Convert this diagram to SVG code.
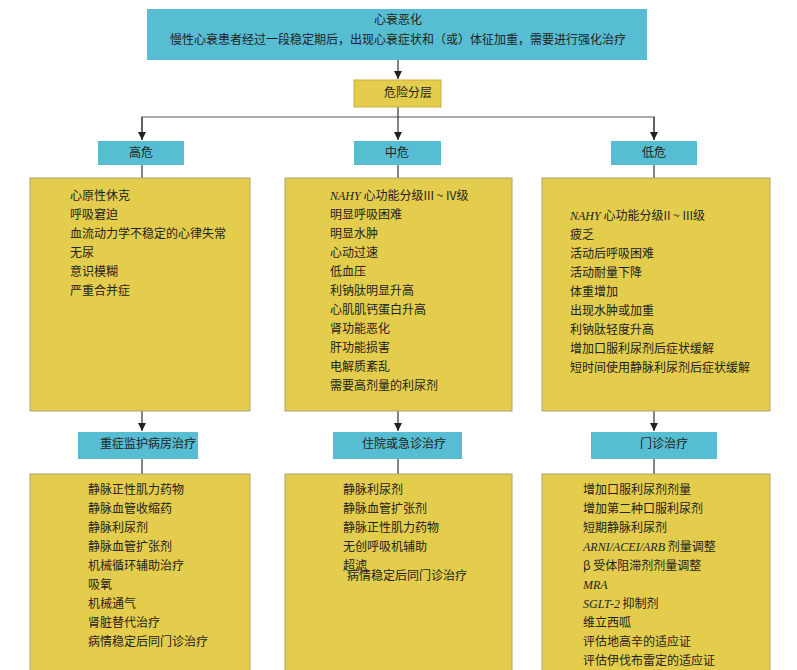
<svg xmlns="http://www.w3.org/2000/svg" width="797" height="670" viewBox="0 0 797 670">
<defs>
<style>
text{font-family:"Noto Sans CJK SC","Liberation Sans",sans-serif;font-size:12px;fill:#222}
.b{fill:#56bdd3}
.y{fill:#e4cd4c;stroke:#b0a070;stroke-width:1}
.l{stroke:#333;stroke-width:1.2;fill:none}
.g{stroke:#aaa;stroke-width:2;fill:none}
.i{font-family:"Liberation Serif",serif;font-style:italic}
</style>
<marker id="a" viewBox="0 0 10 10" refX="10" refY="5" markerWidth="7" markerHeight="7" orient="auto"><path d="M0,0L10,5L0,10z" fill="#222"/></marker>
</defs>
<rect width="797" height="670" fill="#fff"/>
<g id="connectors">
<path class="l" d="M398,60V79" marker-end="url(#a)"/>
<path class="g" d="M142,140V117H654V140"/>
<path class="l" d="M398,107V140" marker-end="url(#a)"/>
<path class="l" d="M142,117V140" marker-end="url(#a)"/>
<path class="l" d="M654,117V140" marker-end="url(#a)"/>
<path class="l" d="M142,165V178M398,165V178M654,165V178"/>
<path class="l" d="M142,411V431" marker-end="url(#a)"/>
<path class="l" d="M398,411V431" marker-end="url(#a)"/>
<path class="l" d="M654,411V431" marker-end="url(#a)"/>
<path class="l" d="M142,459V474M398,459V474M654,459V474"/>
</g>
<g id="top"><rect class="b" x="147" y="9" width="500" height="51"/>
<text x="398" y="24" text-anchor="middle">心衰恶化</text>
<text x="398" y="44" text-anchor="middle">慢性心衰患者经过一段稳定期后，出现心衰症状和（或）体征加重，需要进行强化治疗</text></g>
<g id="risk"><rect x="354" y="80" width="87" height="27" fill="#e4cd4c" stroke="#c8b040"/><text x="384" y="97">危险分层</text></g>
<g id="high"><rect class="b" x="98" y="141" width="86" height="24"/><text x="141" y="157" text-anchor="middle">高危</text></g>
<g id="mid"><rect class="b" x="354" y="141" width="87" height="24"/><text x="397" y="157" text-anchor="middle">中危</text></g>
<g id="low"><rect class="b" x="611" y="141" width="86" height="24"/><text x="654" y="157" text-anchor="middle">低危</text></g>
<g id="high-list"><rect class="y" x="30" y="178" width="220" height="233"/>
<text x="70" y="200">心原性休克</text><text x="70" y="219">呼吸窘迫</text><text x="70" y="238">血流动力学不稳定的心律失常</text><text x="70" y="257">无尿</text><text x="70" y="276">意识模糊</text><text x="70" y="295">严重合并症</text></g>
<g id="mid-list"><rect class="y" x="285" y="178" width="227" height="233"/>
<text x="330" y="200"><tspan class="i">NAHY</tspan> 心功能分级III ~ IV级</text><text x="330" y="219">明显呼吸困难</text><text x="330" y="238">明显水肿</text><text x="330" y="257">心动过速</text><text x="330" y="276">低血压</text><text x="330" y="295">利钠肽明显升高</text><text x="330" y="314">心肌肌钙蛋白升高</text><text x="330" y="333">肾功能恶化</text><text x="330" y="352">肝功能损害</text><text x="330" y="371">电解质紊乱</text><text x="330" y="390">需要高剂量的利尿剂</text></g>
<g id="low-list"><rect class="y" x="542" y="178" width="228" height="233"/>
<text x="570" y="220"><tspan class="i">NAHY</tspan> 心功能分级II ~ III级</text><text x="570" y="239">疲乏</text><text x="570" y="258">活动后呼吸困难</text><text x="570" y="277">活动耐量下降</text><text x="570" y="296">体重增加</text><text x="570" y="315">出现水肿或加重</text><text x="570" y="334">利钠肽轻度升高</text><text x="570" y="353">增加口服利尿剂后症状缓解</text><text x="570" y="372">短时间使用静脉利尿剂后症状缓解</text></g>
<g id="icu"><rect class="b" x="78" y="432" width="120" height="27"/><text x="100" y="448">重症监护病房治疗</text></g>
<g id="hosp"><rect class="b" x="333" y="432" width="129" height="27"/><text x="362" y="448">住院或急诊治疗</text></g>
<g id="out"><rect class="b" x="591" y="432" width="126" height="27"/><text x="640" y="448">门诊治疗</text></g>
<g id="icu-list"><rect class="y" x="30" y="474" width="220" height="200"/>
<text x="88" y="494">静脉正性肌力药物</text><text x="88" y="513">静脉血管收缩药</text><text x="88" y="532">静脉利尿剂</text><text x="88" y="551">静脉血管扩张剂</text><text x="88" y="570">机械循环辅助治疗</text><text x="88" y="589">吸氧</text><text x="88" y="608">机械通气</text><text x="88" y="627">肾脏替代治疗</text><text x="88" y="646">病情稳定后同门诊治疗</text></g>
<g id="hosp-list"><rect class="y" x="285" y="474" width="227" height="200"/>
<text x="343" y="494">静脉利尿剂</text><text x="343" y="513">静脉血管扩张剂</text><text x="343" y="532">静脉正性肌力药物</text><text x="343" y="551">无创呼吸机辅助</text><text x="343" y="570">超滤</text><text x="347" y="580">病情稳定后同门诊治疗</text></g>
<g id="out-list"><rect class="y" x="542" y="474" width="228" height="200"/>
<text x="583" y="494">增加口服利尿剂剂量</text><text x="583" y="513">增加第二种口服利尿剂</text><text x="583" y="532">短期静脉利尿剂</text><text x="583" y="551"><tspan class="i">ARNI/ACEI/ARB</tspan> 剂量调整</text><text x="583" y="570">β 受体阻滞剂剂量调整</text><text x="583" y="589" class="i">MRA</text><text x="583" y="608"><tspan class="i">SGLT-2</tspan> 抑制剂</text><text x="583" y="627">维立西呱</text><text x="583" y="646">评估地高辛的适应证</text><text x="583" y="665">评估伊伐布雷定的适应证</text></g>
</svg>
